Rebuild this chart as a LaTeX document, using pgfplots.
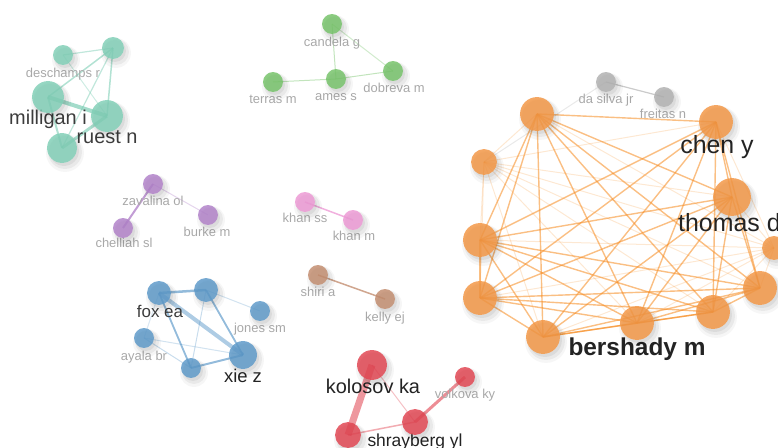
\documentclass[border=0pt]{standalone}
\usepackage{pgfplots}
\pgfplotsset{compat=1.18}
\usepackage{pgfplotstable}
\usepackage{fontspec}
\setmainfont{Liberation Sans}

\definecolor{cteal}{RGB}{115,202,175}
\definecolor{cgreen}{RGB}{102,188,88}
\definecolor{cpurple}{RGB}{168,115,195}
\definecolor{cpink}{RGB}{235,142,208}
\definecolor{cbrown}{RGB}{188,128,95}
\definecolor{cblue}{RGB}{75,142,195}
\definecolor{cred}{RGB}{222,48,62}
\definecolor{cgray}{RGB}{168,168,168}
\definecolor{corange}{RGB}{242,139,48}
\definecolor{eorange}{RGB}{246,138,30}
\definecolor{labgray}{RGB}{168,168,168}
\definecolor{labdark}{RGB}{35,35,35}
\definecolor{labmid}{RGB}{60,60,60}

% nodes: x y r  (pixel coordinates, y downwards)
\pgfplotstableread{
x y r
63 55 10
113 48 11
48 97 16
107 116 16
62 148 15
}\tealtab
\pgfplotstableread{
x y r
332 24 10
273 82 10
336 79 10
393 71 10
}\greentab
\pgfplotstableread{
x y r
153 184 10
123 228 10
208 215 10
}\purpletab
\pgfplotstableread{
x y r
305 202 10
353 220 10
}\pinktab
\pgfplotstableread{
x y r
318 275 10
385 299 10
}\browntab
\pgfplotstableread{
x y r
159 293 12
206 290 12
260 311 10
144 338 10
191 368 10
243 355 14
}\bluetab
\pgfplotstableread{
x y r
372 365 15
465 377 10
415 422 13
348 435 13
}\redtab
\pgfplotstableread{
x y r
606 82 10
664 97 10
}\graytab
\pgfplotstableread{
x y r
537 114 17
716 122 17
484 162 13
732 197 19
480 240 17
774 248 12
480 298 17
760 288 17
713 312 17
637 323 17
543 337 17
}\orangetab

\pgfplotsset{
  netnodes/.style={scatter, only marks, mark=*, point meta=\thisrow{r},
    scatter/use mapped color={draw=#1, fill=#1},
    mark options={fill opacity=0.75, draw opacity=0},
    visualization depends on={\thisrow{r}\as\rad},
    scatter/@pre marker code/.append style={/tikz/mark size=\rad}},
  shadowA/.style={scatter, only marks, mark=*, point meta=\thisrow{r},
    scatter/use mapped color={draw=black, fill=black},
    mark options={fill opacity=0.035, draw opacity=0},
    visualization depends on={\thisrow{r}+4\as\rad},
    scatter/@pre marker code/.append style={/tikz/mark size=\rad}},
  shadowB/.style={scatter, only marks, mark=*, point meta=\thisrow{r},
    scatter/use mapped color={draw=black, fill=black},
    mark options={fill opacity=0.05, draw opacity=0},
    visualization depends on={\thisrow{r}+2\as\rad},
    scatter/@pre marker code/.append style={/tikz/mark size=\rad}},
  shadowC/.style={scatter, only marks, mark=*, point meta=\thisrow{r},
    scatter/use mapped color={draw=black, fill=black},
    mark options={fill opacity=0.06, draw opacity=0},
    visualization depends on={\thisrow{r}\as\rad},
    scatter/@pre marker code/.append style={/tikz/mark size=\rad}},
  oS/.style={draw=eorange, line width=1.4bp, opacity=0.55},
  oW/.style={draw=eorange, line width=1bp, opacity=0.2},
}
\tikzset{
  lsmall/.style={font=\fontsize{13}{15}\selectfont, text=labgray, inner sep=0pt, text height=1.2em, text depth=0.1em},
  lmid/.style={font=\fontsize{17}{20}\selectfont, text=labdark, inner sep=0pt, text height=1.2em, text depth=0.1em},
  lbig/.style={font=\fontsize{20}{24}\selectfont, text=labdark, inner sep=0pt, text height=1.2em, text depth=0.1em},
  lhuge/.style={font=\fontsize{25}{29}\selectfont, text=labdark, inner sep=0pt, text height=1.2em, text depth=0.1em},
}

\newcommand{\drawnodes}[2]{%
  \addplot[shadowA] table[x expr=\thisrow{x}+3, y expr=\thisrow{y}+5] {#1};
  \addplot[shadowB] table[x expr=\thisrow{x}+3, y expr=\thisrow{y}+4] {#1};
  \addplot[shadowC] table[x expr=\thisrow{x}+2, y expr=\thisrow{y}+3] {#1};
  \addplot[draw=none, only marks, mark=*, mark options={fill=white, draw opacity=0, fill opacity=0.35}, scatter, point meta=\thisrow{r},
    scatter/use mapped color={draw=white, fill=white},
    visualization depends on={\thisrow{r}\as\rad},
    scatter/@pre marker code/.append style={/tikz/mark size=\rad}] table[x=x, y=y] {#1};
  \addplot[netnodes=#2] table[x=x, y=y] {#1};
}

\begin{document}
\begin{tikzpicture}
\begin{axis}[x=1bp, y=1bp, xmin=0, xmax=778, ymin=0, ymax=448, y dir=reverse,
  hide axis, clip=true, anchor=south west, at={(0,0)}]

% ---------- edges ----------
% teal
\addplot[draw=cteal, line width=1.2bp, opacity=0.45] coordinates {(63,55) (113,48)};
\addplot[draw=cteal, line width=1bp, opacity=0.35] coordinates {(63,55) (107,116)};
\addplot[draw=cteal, line width=1.5bp, opacity=0.55] coordinates {(48,97) (113,48)};
\addplot[draw=cteal, line width=4bp, opacity=0.65] coordinates {(48,97) (107,116)};
\addplot[draw=cteal, line width=2bp, opacity=0.55] coordinates {(48,97) (62,148)};
\addplot[draw=cteal, line width=1.5bp, opacity=0.55] coordinates {(113,48) (107,116)};
\addplot[draw=cteal, line width=1.2bp, opacity=0.45] coordinates {(113,48) (62,148)};
\addplot[draw=cteal, line width=3bp, opacity=0.6] coordinates {(107,116) (62,148)};
% green
\addplot[draw=cgreen, line width=1bp, opacity=0.4] coordinates {(332,24) (336,79)};
\addplot[draw=cgreen, line width=1bp, opacity=0.4] coordinates {(273,82) (336,79)};
\addplot[draw=cgreen, line width=1bp, opacity=0.4] coordinates {(336,79) (393,71)};
\addplot[draw=cgreen, line width=1bp, opacity=0.3] coordinates {(332,24) (393,71)};
% purple
\addplot[draw=cpurple, line width=2bp, opacity=0.7] coordinates {(153,184) (123,228)};
\addplot[draw=cpurple, line width=1bp, opacity=0.3] coordinates {(153,184) (208,215)};
% pink, brown
\addplot[draw=cpink, line width=1.5bp, opacity=0.7] coordinates {(305,202) (353,220)};
\addplot[draw=cbrown, line width=1.5bp, opacity=0.7] coordinates {(318,275) (385,299)};
% blue
\addplot[draw=cblue, line width=2.5bp, opacity=0.6] coordinates {(159,293) (206,290)};
\addplot[draw=cblue, line width=4bp, opacity=0.45] coordinates {(159,293) (243,355)};
\addplot[draw=cblue, line width=1.8bp, opacity=0.6] coordinates {(159,293) (191,368)};
\addplot[draw=cblue, line width=1bp, opacity=0.2] coordinates {(159,293) (144,338)};
\addplot[draw=cblue, line width=1.8bp, opacity=0.6] coordinates {(206,290) (243,355)};
\addplot[draw=cblue, line width=1bp, opacity=0.25] coordinates {(206,290) (260,311)};
\addplot[draw=cblue, line width=1bp, opacity=0.3] coordinates {(206,290) (191,368)};
\addplot[draw=cblue, line width=1bp, opacity=0.25] coordinates {(144,338) (243,355)};
\addplot[draw=cblue, line width=1bp, opacity=0.3] coordinates {(144,338) (191,368)};
\addplot[draw=cblue, line width=2bp, opacity=0.6] coordinates {(191,368) (243,355)};
% red
\addplot[draw=cred, line width=7bp, opacity=0.5] coordinates {(372,365) (348,435)};
\addplot[draw=cred, line width=1bp, opacity=0.3] coordinates {(372,365) (415,422)};
\addplot[draw=cred, line width=3bp, opacity=0.55] coordinates {(415,422) (465,377)};
\addplot[draw=cred, line width=1.5bp, opacity=0.4] coordinates {(348,435) (415,422)};
% gray
\addplot[draw=cgray, line width=1.2bp, opacity=0.6] coordinates {(606,82) (664,97)};
\addplot[draw=cgray, line width=1bp, opacity=0.25] coordinates {(606,82) (484,162)};
% orange strong
\addplot[oS] coordinates {(537,114) (716,122)};
\addplot[oS] coordinates {(537,114) (732,197)};
\addplot[oS] coordinates {(537,114) (480,240)};
\addplot[oS] coordinates {(537,114) (480,298)};
\addplot[oS] coordinates {(537,114) (760,288)};
\addplot[oS] coordinates {(537,114) (713,312)};
\addplot[oS] coordinates {(537,114) (637,323)};
\addplot[oS] coordinates {(537,114) (543,337)};
\addplot[oS] coordinates {(716,122) (732,197)};
\addplot[oS] coordinates {(716,122) (480,240)};
\addplot[oS] coordinates {(716,122) (480,298)};
\addplot[oS] coordinates {(716,122) (760,288)};
\addplot[oS] coordinates {(716,122) (713,312)};
\addplot[oS] coordinates {(716,122) (637,323)};
\addplot[oS] coordinates {(716,122) (543,337)};
\addplot[oS] coordinates {(732,197) (480,240)};
\addplot[oS] coordinates {(732,197) (480,298)};
\addplot[oS] coordinates {(732,197) (760,288)};
\addplot[oS] coordinates {(732,197) (713,312)};
\addplot[oS] coordinates {(732,197) (637,323)};
\addplot[oS] coordinates {(732,197) (543,337)};
\addplot[oS] coordinates {(480,240) (480,298)};
\addplot[oS] coordinates {(480,240) (760,288)};
\addplot[oS] coordinates {(480,240) (713,312)};
\addplot[oS] coordinates {(480,240) (637,323)};
\addplot[oS] coordinates {(480,240) (543,337)};
\addplot[oS] coordinates {(480,298) (760,288)};
\addplot[oS] coordinates {(480,298) (713,312)};
\addplot[oS] coordinates {(480,298) (637,323)};
\addplot[oS] coordinates {(480,298) (543,337)};
\addplot[oS] coordinates {(760,288) (713,312)};
\addplot[oS] coordinates {(760,288) (637,323)};
\addplot[oS] coordinates {(760,288) (543,337)};
\addplot[oS] coordinates {(713,312) (637,323)};
\addplot[oS] coordinates {(713,312) (543,337)};
\addplot[oS] coordinates {(637,323) (543,337)};
% orange weak
\addplot[oW] coordinates {(484,162) (537,114)};
\addplot[oW] coordinates {(484,162) (716,122)};
\addplot[oW] coordinates {(484,162) (732,197)};
\addplot[oW] coordinates {(484,162) (480,240)};
\addplot[oW] coordinates {(484,162) (480,298)};
\addplot[oW] coordinates {(484,162) (760,288)};
\addplot[oW] coordinates {(484,162) (713,312)};
\addplot[oW] coordinates {(484,162) (637,323)};
\addplot[oW] coordinates {(484,162) (543,337)};
\addplot[oW] coordinates {(774,248) (537,114)};
\addplot[oW] coordinates {(774,248) (716,122)};
\addplot[oW] coordinates {(774,248) (484,162)};
\addplot[oW] coordinates {(774,248) (732,197)};
\addplot[oW] coordinates {(774,248) (480,240)};
\addplot[oW] coordinates {(774,248) (480,298)};
\addplot[oW] coordinates {(774,248) (760,288)};
\addplot[oW] coordinates {(774,248) (713,312)};
\addplot[oW] coordinates {(774,248) (637,323)};
\addplot[oW] coordinates {(774,248) (543,337)};

% ---------- nodes ----------
\drawnodes{\tealtab}{cteal}
\drawnodes{\greentab}{cgreen}
\drawnodes{\purpletab}{cpurple}
\drawnodes{\pinktab}{cpink}
\drawnodes{\browntab}{cbrown}
\drawnodes{\bluetab}{cblue}
\drawnodes{\redtab}{cred}
\drawnodes{\graytab}{cgray}
\drawnodes{\orangetab}{corange}

% ---------- labels ----------
\node[lsmall] at (63,72) {deschamps r};
\node[lbig, text=labmid] at (48,119) {milligan i};
\node[lbig, text=labmid] at (107,138) {ruest n};
\node[lsmall] at (332,41) {candela g};
\node[lsmall] at (273,98) {terras m};
\node[lsmall] at (336,95) {ames s};
\node[lsmall] at (394,87) {dobreva m};
\node[lsmall] at (153,200) {zavalina ol};
\node[lsmall] at (124,242) {chelliah sl};
\node[lsmall] at (207,231) {burke m};
\node[lsmall] at (305,217) {khan ss};
\node[lsmall] at (354,235) {khan m};
\node[lsmall] at (318,291) {shiri a};
\node[lsmall] at (385,316) {kelly ej};
\node[lmid, text=labmid] at (160,312) {fox ea};
\node[lsmall] at (260,327) {jones sm};
\node[lsmall] at (144,355) {ayala br};
\node[lmid, font=\fontsize{18.5}{22}\selectfont] at (243,377) {xie z};
\node[lbig] at (373,388) {kolosov ka};
\node[lsmall] at (465,393) {volkova ky};
\node[lmid, font=\fontsize{17.5}{21}\selectfont] at (415,441) {shrayberg yl};
\node[lsmall] at (606,98) {da silva jr};
\node[lsmall] at (663,113) {freitas n};
\node[lhuge] at (717,148) {chen y};
\node[lhuge, anchor=west] at (678,226) {thomas d};
\node[lhuge, font=\fontsize{24.5}{28}\selectfont\bfseries] at (637,350) {bershady m};
\end{axis}
\pgfresetboundingbox
\path[use as bounding box] (current axis.south west) rectangle (current axis.north east);
\end{tikzpicture}
\end{document}
